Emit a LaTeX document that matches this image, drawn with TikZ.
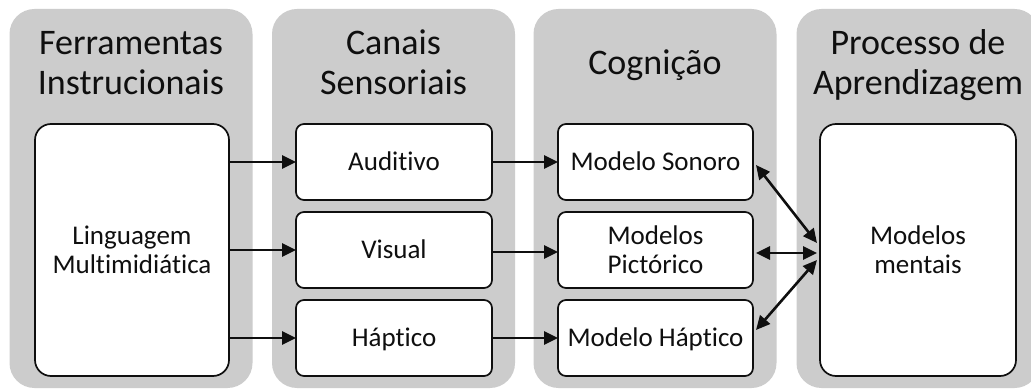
\documentclass[tikz,border=0pt]{standalone}
\usepackage{fontspec}
\setmainfont{Carlito}[Ligatures={NoCommon,NoRequired,NoContextual}]
\usetikzlibrary{arrows.meta,calc}
\definecolor{panelgray}{RGB}{204,204,204}
\definecolor{ink}{RGB}{15,15,15}
\newcommand\tT{\rule{0pt}{32pt}}
\newcommand\tB{\rule[-32pt]{0pt}{32pt}}
\newcommand\bT{\rule{0pt}{25pt}}
\newcommand\bB{\rule[-7.6pt]{0pt}{7.6pt}}
\begin{document}
\begin{tikzpicture}[x=1pt,y=-1pt,
  panel/.style={fill=panelgray, draw=none, rounded corners=25pt, inner sep=0pt, outer sep=0pt,
    minimum width=243pt, minimum height=379pt},
  title/.style={align=center, inner sep=0pt, text=ink, font=\fontsize{36}{40}\selectfont},
  wbox/.style={fill=white, draw=ink, line width=1.7pt, rounded corners=8pt, inner sep=0pt,
    outer sep=0pt, align=center, text=ink, font=\fontsize{27}{29}\selectfont,
    minimum width=195pt, minimum height=76pt},
  bigbox/.style={wbox, rounded corners=16pt, minimum height=252pt},
  arr/.style={line width=2.6pt, draw=ink, -{Triangle[length=14pt,width=13pt]}},
  arrb/.style={line width=2.6pt, draw=ink, {Triangle[length=14pt,width=13pt]}-{Triangle[length=14pt,width=13pt]}}
]
\useasboundingbox (0,0) rectangle (1031,390);
\clip (0,0) rectangle (1031,390);
\fill[white] (0,0) rectangle (1031,390);

% panels
\node[panel] (p1) at (131,198.5) {};
\node[panel] (p2) at (393.5,198.5) {};
\node[panel] (p3) at (655,198.5) {};
\node[panel] (p4) at (918,198.5) {};

% titles
\node[title] (t1) at (131,75) {\tT Ferramentas\\Instrucionais\tB};
\node[title] (t2) at (393.5,75) {\tT Canais\\Sensoriais\tB};
\node[title] (t3) at (655,75) {\tT Cognição\tB};
\node[title] (t4) at (918,75) {\tT Processo de\\Aprendizagem\tB};

% boxes
\node[bigbox, minimum width=194pt] (ling) at (132,250) {\bT Linguagem\\Multimidiática\bB};
\node[wbox, minimum width=196pt] (aud) at (394,162) {\bT Auditivo\bB};
\node[wbox, minimum width=196pt] (vis) at (394,250) {\bT Visual\bB};
\node[wbox, minimum width=196pt] (hap) at (394,338) {\bT Háptico\bB};
\node[wbox] (son) at (655.5,162) {\bT Modelo Sonoro\bB};
\node[wbox] (pic) at (655.5,250) {\bT Modelos\\Pictórico\bB};
\node[wbox] (mhap) at (655.5,338) {\bT Modelo Háptico\bB};
\node[bigbox, minimum width=196pt] (mm) at (918,250) {\bT Modelos\\mentais\bB};

% arrows
\draw[arr] (ling.east |- aud.west) -- (aud.west);
\draw[arr] (ling.east |- vis.west) -- (vis.west);
\draw[arr] (ling.east |- hap.west) -- (hap.west);
\draw[arr] (aud.east) -- (son.west);
\draw[arr] ($(vis.east)+(0,2)$) -- ($(pic.west)+(0,2)$);
\draw[arr] (hap.east) -- (mhap.west);
\draw[arrb] ($(son.east)+(3,3)$) -- ($(mm.west)+(-3,-7)$);
\draw[arrb] ($(pic.east)+(3,3)$) -- ($(mm.west)+(-3,3)$);
\draw[arrb] ($(mhap.east)+(3,-8)$) -- ($(mm.west)+(-3,10)$);
\end{tikzpicture}
\end{document}
